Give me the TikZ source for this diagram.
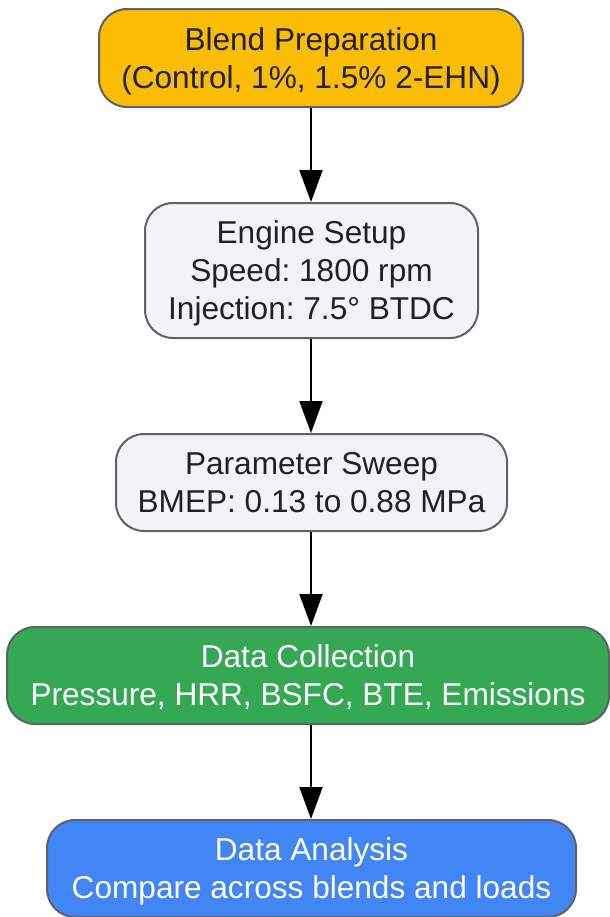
\documentclass[tikz,border=0pt]{standalone}
\usepackage{fontspec}
\setmainfont{Liberation Sans}
\frenchspacing
\usetikzlibrary{arrows.meta}
\definecolor{blendorange}{HTML}{FBBC04}
\definecolor{setupgray}{HTML}{F1F3F4}
\definecolor{collectgreen}{HTML}{34A853}
\definecolor{analysisblue}{HTML}{4285F4}
\definecolor{edgegray}{HTML}{5F6368}
\definecolor{textdark}{HTML}{202124}
\begin{document}
\begin{tikzpicture}[x=0.5pt,y=-0.5pt,
		stage/.style={draw=edgegray,line width=1pt,rounded corners=14pt,align=center,inner sep=0pt,
			font=\fontsize{15.8pt}{19pt}\selectfont,text=textdark,
			text depth=-1.5pt},
		flow/.style={-{Triangle[length=16pt,width=11.5pt]},line width=1pt}]
		\useasboundingbox (0,0) rectangle (610,917);
		\node[stage,fill=blendorange,minimum width=212pt,minimum height=49pt] (blend) at (311,58) {Blend Preparation\\(Control, 1\%, 1.5\% 2-EHN)};
		\node[stage,fill=setupgray,minimum width=166.5pt,minimum height=67.5pt] (setup) at (311.5,270.5) {Engine Setup\\Speed: 1800 rpm\\Injection: 7.5° BTDC};
		\node[stage,fill=setupgray,minimum width=195.5pt,minimum height=48.5pt] (sweep) at (311.5,482.5) {Parameter Sweep\\BMEP: 0.13 to 0.88 MPa};
		\node[stage,fill=collectgreen,text=white,minimum width=301pt,minimum height=48.5pt] (collect) at (308,675.5) {Data Collection\\Pressure, HRR, BSFC, BTE, Emissions};
		\node[stage,fill=analysisblue,text=white,minimum width=264.5pt,minimum height=48.5pt] (analysis) at (311.5,868.5) {Data Analysis\\Compare across blends and loads};
		\draw[flow] (blend.south -| 311,0) -- (setup.north -| 311,0);
		\draw[flow] (setup.south -| 311,0) -- (sweep.north -| 311,0);
		\draw[flow] (sweep.south -| 311,0) -- (collect.north -| 311,0);
		\draw[flow] (collect.south -| 311,0) -- (analysis.north -| 311,0);
	\end{tikzpicture}
\end{document}
